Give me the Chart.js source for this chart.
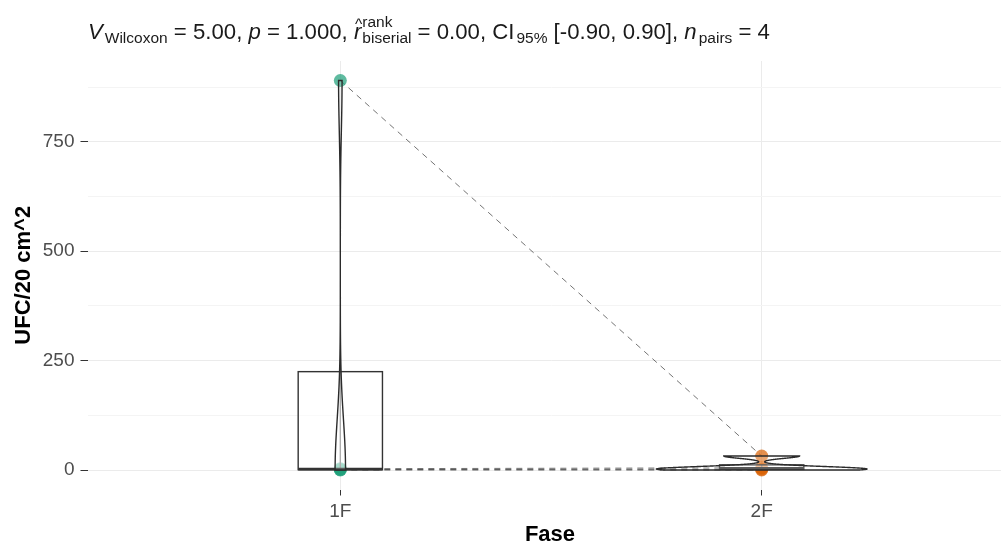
<!DOCTYPE html>
<html>
<head>
<meta charset="utf-8">
<script src="https://cdn.jsdelivr.net/npm/chart.js@4.4.1/dist/chart.umd.min.js"></script>
<style>
  html, body { margin: 0; padding: 0; background: #fff; overflow: hidden; }
  canvas { display: block; }
</style>
</head>
<body>
<canvas id="chart" width="1021" height="544" style="width:1021px;height:544px"></canvas>
<script>
// dados (pareados por índice)
const fases = ['1F', '2F'];
const ufc1F = [890, 0, 1, 3];
const ufc2F = [32, 0, 2, 5];
const yTicks = [0, 125, 250, 375, 500, 625, 750, 875];
const yMajor = [0, 250, 500, 750];
const faseColors = ['rgba(27,158,119,0.7)', 'rgba(217,95,2,0.7)'];

const yTitle = 'UFC/20 cm^2';
const xTitle = 'Fase';
const subtitleParts = [
    { t: 'V', it: true }, { t: 'Wilcoxon', sub: true }, { t: ' = 5.00, ' },
    { t: 'p', it: true }, { t: ' = 1.000, ' },
    { t: 'r', it: true, hat: true }, { sup: 'rank', sub: 'biserial' },
    { t: ' = 0.00, CI' }, { t: '95%', sub: true }, { t: ' [-0.90, 0.90], ' },
    { t: 'n', it: true }, { t: 'pairs', sub: true }, { t: ' = 4' }
];

const FONT = "'Liberation Sans', Arial, sans-serif";
const groups = [ufc1F, ufc2F];

// estatísticas (quantil tipo 7, como no R)
function quantile(arr, p) {
    const s = [...arr].sort((a, b) => a - b);
    const h = (s.length - 1) * p;
    const lo = Math.floor(h);
    const hi = Math.min(lo + 1, s.length - 1);
    return s[lo] + (h - lo) * (s[hi] - s[lo]);
}

function boxStats(vals) {
    const q1 = quantile(vals, 0.25), med = quantile(vals, 0.5), q3 = quantile(vals, 0.75);
    const iqr = q3 - q1;
    const inside = vals.filter(v => v >= q1 - 1.5 * iqr && v <= q3 + 1.5 * iqr);
    return { q1, med, q3, lo: Math.min(...inside), hi: Math.max(...inside) };
}

function bwNrd0(vals) {
    const n = vals.length;
    const mean = vals.reduce((a, b) => a + b, 0) / n;
    const sd = Math.sqrt(vals.reduce((a, b) => a + (b - mean) ** 2, 0) / (n - 1));
    const iqr = quantile(vals, 0.75) - quantile(vals, 0.25);
    return 0.9 * Math.min(sd, iqr / 1.34) * Math.pow(n, -0.2);
}

function density(vals) {
    const bw = bwNrd0(vals);
    const lo = Math.min(...vals), hi = Math.max(...vals);
    const out = [];
    for (let k = 0; k < 512; k++) {
        const yv = lo + (hi - lo) * k / 511;
        let d = 0;
        vals.forEach(v => { const z = (yv - v) / bw; d += Math.exp(-0.5 * z * z); });
        out.push({ y: yv, d: d / (vals.length * bw * Math.sqrt(2 * Math.PI)) });
    }
    return out;
}

const densities = groups.map(density);
const maxDens = Math.max(...densities.flat().map(p => p.d));

const boxViolinPlugin = {
    id: 'boxViolin',
    afterDatasetsDraw(chart) {
        const { ctx, chartArea: a, scales: { x, y } } = chart;
        const unit = x.getPixelForValue(2) - x.getPixelForValue(1);
        ctx.save();
        ctx.beginPath();
        ctx.rect(a.left, a.top, a.width, a.height);
        ctx.clip();

        // boxplot (largura 0.2)
        groups.forEach((vals, i) => {
            const s = boxStats(vals);
            const cx = x.getPixelForValue(i + 1);
            const hw = unit * 0.1;
            ctx.strokeStyle = '#333';
            ctx.lineWidth = 1.4;
            ctx.beginPath();
            ctx.moveTo(cx, y.getPixelForValue(s.q3)); ctx.lineTo(cx, y.getPixelForValue(s.hi));
            ctx.moveTo(cx, y.getPixelForValue(s.q1)); ctx.lineTo(cx, y.getPixelForValue(s.lo));
            ctx.stroke();
            const top = y.getPixelForValue(s.q3), bot = y.getPixelForValue(s.q1);
            ctx.fillStyle = 'rgba(255,255,255,0.5)';
            ctx.fillRect(cx - hw, top, 2 * hw, bot - top);
            ctx.strokeRect(cx - hw, top, 2 * hw, bot - top);
            ctx.lineWidth = 2.8;
            ctx.beginPath();
            ctx.moveTo(cx - hw, y.getPixelForValue(s.med));
            ctx.lineTo(cx + hw, y.getPixelForValue(s.med));
            ctx.stroke();
        });

        // violino (largura 0.5, escala "area")
        densities.forEach((dens, i) => {
            const cx = x.getPixelForValue(i + 1);
            const w = unit * 0.25;
            ctx.beginPath();
            dens.forEach((p, k) => {
                const px = cx - w * p.d / maxDens, py = y.getPixelForValue(p.y);
                k === 0 ? ctx.moveTo(px, py) : ctx.lineTo(px, py);
            });
            for (let k = dens.length - 1; k >= 0; k--) {
                ctx.lineTo(cx + w * dens[k].d / maxDens, y.getPixelForValue(dens[k].y));
            }
            ctx.closePath();
            ctx.fillStyle = 'rgba(255,255,255,0.2)';
            ctx.fill();
            ctx.strokeStyle = '#2b2b2b';
            ctx.lineWidth = 1.4;
            ctx.stroke();
        });
        ctx.restore();
    }
};

const labelsPlugin = {
    id: 'labels',
    afterDraw(chart) {
        const { ctx, chartArea: a } = chart;
        ctx.save();
        ctx.fillStyle = '#000';

        // títulos dos eixos
        ctx.font = `bold 22px ${FONT}`;
        ctx.textAlign = 'center';
        ctx.textBaseline = 'alphabetic';
        ctx.fillText(xTitle, 550, 541);
        ctx.translate(30, (a.top + a.bottom) / 2);
        ctx.rotate(-Math.PI / 2);
        ctx.fillText(yTitle, 0, 0);
        ctx.setTransform(1, 0, 0, 1, 0, 0);

        // subtítulo com índices
        const base = 39, big = 22.2, small = 15.5;
        let cx = 88;
        ctx.textAlign = 'left';
        ctx.fillStyle = '#1a1a1a';
        subtitleParts.forEach(p => {
            if (p.sup !== undefined) {
                ctx.font = `${small}px ${FONT}`;
                ctx.fillText(p.sup, cx + 1, base - 12);
                ctx.fillText(p.sub, cx + 1, base + 4);
                cx += Math.max(ctx.measureText(p.sup).width, ctx.measureText(p.sub).width) + 1;
                return;
            }
            if (p.sub) {
                ctx.font = `${small}px ${FONT}`;
                ctx.fillText(p.t, cx + 2, base + 4);
                cx += ctx.measureText(p.t).width + 2;
                return;
            }
            ctx.font = `${p.it ? 'italic ' : ''}${big}px ${FONT}`;
            ctx.fillText(p.t, cx, base);
            const w = ctx.measureText(p.t).width;
            if (p.hat) {
                ctx.font = `${small}px ${FONT}`;
                ctx.fillText('^', cx + 1, base - 10);
            }
            cx += w;
        });
        ctx.restore();
    }
};

const pathDatasets = ufc1F.map((v, i) => ({
    type: 'line',
    data: [{ x: 1, y: v }, { x: 2, y: ufc2F[i] }],
    borderColor: 'rgba(0,0,0,0.55)',
    borderWidth: 1,
    borderDash: [6, 5],
    pointRadius: 0,
    order: 2
}));

const pointDatasets = groups.map((vals, i) => ({
    type: 'scatter',
    data: vals.map(v => ({ x: i + 1, y: v })),
    backgroundColor: faseColors[i],
    borderWidth: 0,
    pointRadius: 6.5,
    order: 1
}));

new Chart(document.getElementById('chart'), {
    data: { datasets: [...pointDatasets, ...pathDatasets] },
    options: {
        responsive: false,
        animation: false,
        devicePixelRatio: 1,
        layout: { padding: { top: 61, right: 2, left: 0, bottom: 0 } },
        plugins: { legend: { display: false }, tooltip: { enabled: false } },
        scales: {
            x: {
                type: 'linear',
                min: 0.4,
                max: 2.6,
                afterBuildTicks: s => { s.ticks = [1, 2].map(v => ({ value: v })); },
                afterFit: s => { s.height = 54.5; },
                ticks: {
                    color: '#4d4d4d',
                    font: { size: 19, family: FONT },
                    padding: 5,
                    callback: v => fases[Math.round(v) - 1]
                },
                grid: { color: '#ebebeb', tickColor: '#333', tickLength: 6 },
                border: { display: false }
            },
            y: {
                min: -44.5,
                max: 934.5,
                afterBuildTicks: s => { s.ticks = yTicks.map(v => ({ value: v })); },
                afterFit: s => { s.width = 87.5; },
                ticks: {
                    color: '#4d4d4d',
                    font: { size: 19, family: FONT },
                    padding: 6,
                    callback: v => yMajor.includes(v) ? String(v) : ''
                },
                grid: {
                    color: c => yMajor.includes(c.tick && c.tick.value) ? '#ebebeb' : '#f4f4f4',
                    tickColor: c => yMajor.includes(c.tick && c.tick.value) ? '#333' : 'rgba(0,0,0,0)',
                    tickLength: 7
                },
                border: { display: false }
            }
        }
    },
    plugins: [boxViolinPlugin, labelsPlugin]
});
</script>
</body>
</html>
